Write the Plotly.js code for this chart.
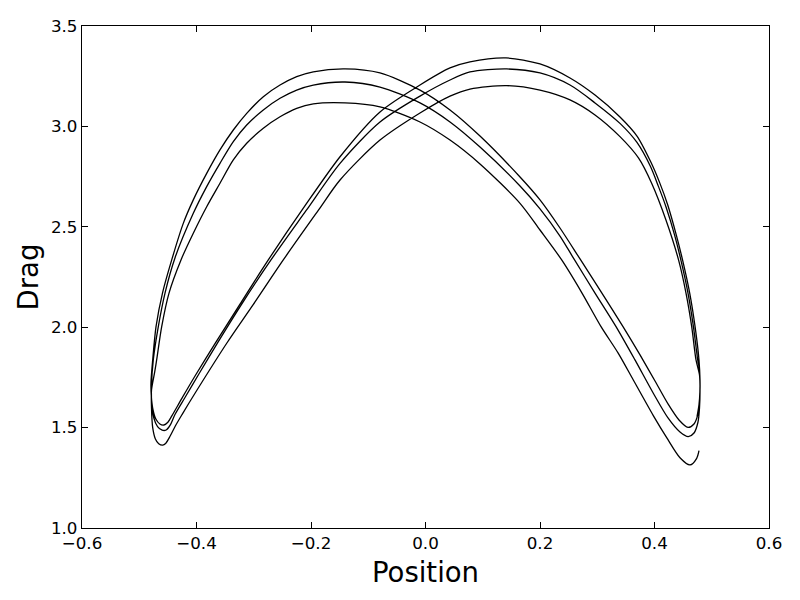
<!DOCTYPE html>
<html>
<head>
<meta charset="utf-8">
<script src="https://cdn.plot.ly/plotly-3.0.1.min.js"></script>
<style>
    html, body { margin: 0; padding: 0; background: #ffffff; }
    #drag_plot { width: 800px; height: 600px; }
</style>
</head>
<body>
<div id="drag_plot"></div>
<script>
// sweep 1, moving left (starts at the right end)
var pos_L1 = [ 0.4742, 0.4777, 0.4795, 0.4795, 0.4777, 0.4710, 0.4615, 0.4490, 0.4380, 0.4230, 0.4090, 0.3940, 0.3694, 0.3397, 0.2961, 0.2524, 0.2000, 0.1406, 0.0777, 0.0428, -0.0096, -0.0795, -0.1493, -0.2140, -0.2746, -0.3240, -0.3677, -0.4026, -0.4253, -0.4428, -0.4500, -0.4570, -0.4640, -0.4710, -0.4760, -0.4790 ];
var drag_L1 = [ 1.553, 1.613, 1.687, 1.737, 1.837, 2.000, 2.170, 2.335, 2.460, 2.610, 2.720, 2.820, 2.952, 3.047, 3.156, 3.241, 3.311, 3.341, 3.321, 3.291, 3.206, 3.072, 2.849, 2.590, 2.335, 2.115, 1.918, 1.757, 1.647, 1.560, 1.527, 1.513, 1.518, 1.543, 1.590, 1.660 ];

// sweep 1, moving right
var pos_R1 = [ -0.4795, -0.4765, -0.4707, -0.4594, -0.4433, -0.4231, -0.4056, -0.3822, -0.3590, -0.3357, -0.3123, -0.2833, -0.2541, -0.2250, -0.1960, -0.1406, -0.0795, -0.0096, 0.0428, 0.0952, 0.1651, 0.2000, 0.2349, 0.2699, 0.3048, 0.3450, 0.3747, 0.4009, 0.4236, 0.4428, 0.4585, 0.4690, 0.4760, 0.4786 ];
var drag_R1 = [ 1.725, 1.837, 2.003, 2.170, 2.335, 2.517, 2.634, 2.766, 2.883, 2.982, 3.065, 3.148, 3.206, 3.248, 3.272, 3.286, 3.266, 3.181, 3.082, 2.952, 2.748, 2.634, 2.494, 2.340, 2.185, 2.003, 1.862, 1.732, 1.618, 1.538, 1.501, 1.518, 1.568, 1.638 ];

// sweep 2, moving left
var pos_L2 = [ 0.4795, 0.4786, 0.4755, 0.4680, 0.4585, 0.4460, 0.4350, 0.4200, 0.4070, 0.3930, 0.3694, 0.3397, 0.2961, 0.2524, 0.2000, 0.1418, 0.0777, 0.0428, -0.0096, -0.0795, -0.1493, -0.2087, -0.2699, -0.3188, -0.3619, -0.3956, -0.4201, -0.4376, -0.4460, -0.4530, -0.4600, -0.4680, -0.4745, -0.4783 ];
var drag_L2 = [ 1.712, 1.787, 1.837, 2.003, 2.170, 2.335, 2.460, 2.600, 2.700, 2.800, 2.920, 3.015, 3.117, 3.206, 3.266, 3.286, 3.271, 3.231, 3.151, 3.022, 2.816, 2.580, 2.335, 2.125, 1.928, 1.768, 1.650, 1.565, 1.512, 1.488, 1.487, 1.505, 1.548, 1.628 ];

// sweep 2, moving right
var pos_R2 = [ -0.4786, -0.4755, -0.4667, -0.4550, -0.4376, -0.4056, -0.3822, -0.3590, -0.3357, -0.3123, -0.2833, -0.2541, -0.2250, -0.1960, -0.1406, -0.0795, -0.0096, 0.0428, 0.0952, 0.1651, 0.2000, 0.2349, 0.2582, 0.2961, 0.3328, 0.3659, 0.3979, 0.4236, 0.4445, 0.4590, 0.4690, 0.4760, 0.4786 ];
var drag_R2 = [ 1.712, 1.837, 2.003, 2.170, 2.345, 2.567, 2.700, 2.816, 2.924, 3.007, 3.082, 3.140, 3.181, 3.206, 3.221, 3.196, 3.117, 3.022, 2.897, 2.703, 2.589, 2.454, 2.345, 2.170, 2.003, 1.837, 1.671, 1.548, 1.478, 1.455, 1.473, 1.528, 1.598 ];

// sweep 3, moving left
var pos_L3 = [ 0.4795, 0.4786, 0.4725, 0.4650, 0.4550, 0.4420, 0.4200, 0.3950, 0.3720, 0.3397, 0.2961, 0.2524, 0.2000, 0.1418, 0.0777, 0.0428, -0.0096, -0.0795, -0.1493, -0.1867, -0.2484, -0.3013, -0.3472, -0.4026, -0.4253, -0.4370, -0.4460, -0.4540, -0.4590, -0.4660, -0.4720, -0.4765, -0.4786 ];
var drag_L3 = [ 1.677, 1.762, 1.837, 2.003, 2.170, 2.335, 2.534, 2.717, 2.843, 2.949, 3.057, 3.132, 3.181, 3.203, 3.186, 3.151, 3.067, 2.932, 2.733, 2.584, 2.335, 2.111, 1.920, 1.671, 1.565, 1.508, 1.458, 1.421, 1.413, 1.420, 1.445, 1.500, 1.598 ];

// sweep 3, moving right (ends at the right end)
var pos_R3 = [ -0.4786, -0.4730, -0.4696, -0.4608, -0.4480, -0.4271, -0.4056, -0.3822, -0.3590, -0.3357, -0.3123, -0.2833, -0.2541, -0.2250, -0.1960, -0.1406, -0.0795, -0.0096, 0.0428, 0.0952, 0.1651, 0.2000, 0.2379, 0.2734, 0.3066, 0.3363, 0.3630, 0.3979, 0.4213, 0.4445, 0.4620, 0.4737, 0.4777 ];
var drag_R3 = [ 1.687, 1.777, 1.837, 2.003, 2.170, 2.335, 2.468, 2.600, 2.717, 2.833, 2.916, 2.991, 3.048, 3.090, 3.112, 3.117, 3.097, 3.022, 2.932, 2.813, 2.617, 2.484, 2.335, 2.170, 2.003, 1.872, 1.737, 1.560, 1.450, 1.350, 1.314, 1.347, 1.385 ];

var x_ticks = [ -0.6, -0.4, -0.2, 0.0, 0.2, 0.4, 0.6 ];
var y_ticks = [ 1.0, 1.5, 2.0, 2.5, 3.0, 3.5 ];

function join_sweeps( parts )
{
    var out = [];
    for( var i = 0; i < parts.length; i++ )
    {
        out = out.concat( parts[ i ] );
    }
    return out;
}

var trace =
{
    x: join_sweeps( [ pos_L1, pos_R1, pos_L2, pos_R2, pos_L3, pos_R3 ] ),
    y: join_sweeps( [ drag_L1, drag_R1, drag_L2, drag_R2, drag_L3, drag_R3 ] ),
    mode: 'lines',
    line:
    {
        color: '#000000',
        width: 1.3,
        shape: 'spline',
        smoothing: 0.8
    },
    hoverinfo: 'skip'
};

var axis_font = { family: 'DejaVu Sans', size: 16.7, color: '#000000' };

var layout =
{
    width: 800,
    height: 600,
    paper_bgcolor: '#ffffff',
    plot_bgcolor: '#ffffff',
    showlegend: false,
    margin: { l: 82, r: 31, t: 26, b: 72 },
    xaxis:
    {
        range: [ -0.6, 0.6 ],
        tickvals: x_ticks,
        tickformat: '.1f',
        ticks: 'inside',
        ticklen: 6,
        tickwidth: 1,
        tickcolor: '#000000',
        showline: true,
        linecolor: '#000000',
        linewidth: 1.2,
        mirror: 'ticks',
        showgrid: false,
        zeroline: false,
        tickfont: axis_font,
        title:
        {
            text: 'Position',
            font: { family: 'DejaVu Sans', size: 27.5, color: '#000000' },
            standoff: 10
        }
    },
    yaxis:
    {
        range: [ 1.0, 3.5 ],
        tickvals: y_ticks,
        tickformat: '.1f',
        ticks: 'inside',
        ticklen: 6,
        tickwidth: 1,
        tickcolor: '#000000',
        showline: true,
        linecolor: '#000000',
        linewidth: 1.2,
        mirror: 'ticks',
        showgrid: false,
        zeroline: false,
        tickfont: axis_font,
        title:
        {
            text: 'Drag',
            font: { family: 'DejaVu Sans', size: 27.5, color: '#000000' },
            standoff: 4
        }
    }
};

Plotly.newPlot( 'drag_plot', [ trace ], layout, { staticPlot: true } );
</script>
</body>
</html>
